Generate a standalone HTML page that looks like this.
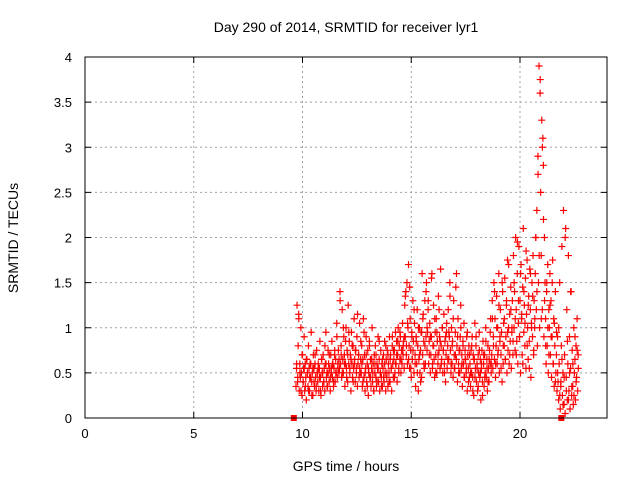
<!DOCTYPE html>
<html><head><meta charset="utf-8"><style>
body{margin:0;background:#fff}
svg{display:block;font-family:"Liberation Sans",sans-serif}
</style></head><body>
<svg id="chart" width="640" height="480">
<text x="346" y="32" text-anchor="middle" font-size="14">Day 290 of 2014, SRMTID for receiver lyr1</text>
<text x="0" y="0" transform="translate(18,238) rotate(-90)" text-anchor="middle" font-size="14">SRMTID / TECUs</text>
<text x="346" y="471" text-anchor="middle" font-size="14">GPS time / hours</text>
<g id="grid"></g><g id="marks"></g>
<rect x="85" y="57" width="522" height="361" fill="none" stroke="#000" stroke-width="1"/>
</svg>
<script>
const xTicks=[0,5,10,15,20];
const yTicks=[0,0.5,1,1.5,2,2.5,3,3.5,4];
const yTickLabels=["0","0.5","1","1.5","2","2.5","3","3.5","4"];
const tStart=9.7, tStep=0.025;
const values=[
0.35,0.55,1.25,0.4,0.8,1.15,0.3,0.6,0.45,1.0,0.5,0.25,0.7,0.4,0.55,0.9,0.3,0.6,0.45,0.2,0.65,0.5,0.35,0.8,0.55,0.3,0.6,0.45,0.95,0.4,0.5,0.25,0.7,0.55,0.35,0.6,0.45,0.3,0.75,0.5,
0.4,0.6,0.3,0.55,0.85,0.45,0.25,0.65,0.5,0.35,0.7,0.4,0.55,0.3,0.6,0.95,0.45,0.5,0.35,0.75,0.6,0.4,0.55,0.3,0.7,0.5,0.85,0.45,0.6,0.35,0.55,0.7,0.4,0.65,0.5,1.05,0.45,0.6,0.75,0.5,
0.55,1.4,0.6,0.8,0.45,1.2,0.65,0.5,0.9,0.7,0.35,0.6,1.0,0.55,0.75,0.4,1.25,0.6,0.85,0.5,0.7,0.3,0.95,0.6,0.45,0.8,0.55,1.1,0.65,0.4,0.75,0.55,0.9,0.35,0.6,0.7,0.45,1.05,0.5,0.65,
0.5,0.8,0.35,0.65,1.1,0.45,0.7,0.3,0.55,0.9,0.4,0.6,0.75,0.25,0.5,0.85,0.45,0.65,0.35,0.55,1.0,0.4,0.6,0.3,0.7,0.5,0.8,0.45,0.35,0.6,0.55,0.9,0.4,0.65,0.3,0.5,0.75,0.45,0.6,0.35,
0.55,0.7,0.4,0.85,0.5,0.3,0.65,0.45,0.75,0.35,0.6,0.5,0.9,0.4,0.7,0.55,0.3,0.8,0.6,0.45,0.65,0.75,0.5,0.95,0.6,0.85,0.4,0.7,1.0,0.55,0.8,0.65,0.9,0.5,0.75,0.6,1.05,0.7,0.85,0.55,
1.25,0.9,1.4,0.7,1.5,0.6,1.0,1.7,0.8,0.55,1.1,0.75,0.45,0.95,0.65,1.3,0.85,0.5,1.05,0.7,0.35,0.9,0.6,1.2,0.8,0.3,0.65,1.0,0.5,0.75,0.95,0.45,1.6,0.7,1.15,0.85,0.55,1.3,0.6,0.9,
1.5,0.75,0.95,1.2,0.6,0.85,1.05,0.5,0.7,0.9,1.6,0.55,0.8,1.25,0.65,0.45,0.95,0.7,1.1,0.5,0.85,0.6,1.35,0.75,0.9,0.55,1.65,0.8,0.65,1.0,0.5,0.75,1.15,0.6,0.85,0.4,0.7,0.95,0.55,0.8,
1.2,0.65,0.9,1.5,0.75,0.5,1.0,0.6,0.85,0.45,1.3,0.7,0.55,0.95,1.45,0.65,0.8,0.4,1.1,0.6,0.75,0.5,0.9,1.25,0.55,0.7,0.35,0.85,0.6,1.05,0.45,0.75,0.65,0.5,0.9,0.3,0.7,0.55,0.8,0.45,
0.6,0.35,0.75,0.5,0.9,0.45,0.7,0.25,0.65,1.05,0.55,0.8,0.4,0.6,0.3,0.7,0.5,0.95,0.45,0.65,0.2,0.55,0.75,0.4,0.85,0.6,0.35,0.7,0.5,1.0,0.45,0.65,0.3,0.8,0.55,0.4,0.75,0.6,1.1,0.5,
0.7,1.3,0.55,0.9,1.5,0.65,1.1,0.45,0.8,1.35,0.6,1.0,0.75,1.6,0.5,0.85,1.2,0.7,0.95,0.4,1.4,0.6,1.05,0.8,1.55,0.65,0.9,1.25,0.5,1.75,0.75,1.0,0.6,1.15,0.85,1.45,0.55,0.95,1.3,0.7,
1.8,1.0,1.4,0.75,2.0,1.2,0.85,1.6,0.6,1.05,1.9,0.9,1.3,0.5,1.7,1.1,0.7,1.45,2.1,0.95,1.25,0.8,1.55,0.55,1.15,1.75,1.0,0.65,1.35,0.85,1.65,1.2,0.45,1.05,1.5,0.9,1.8,0.7,1.3,1.0,
1.6,2.0,1.2,2.3,0.8,2.9,1.5,3.9,1.0,3.6,2.5,1.8,3.3,1.2,3.1,2.8,0.9,2.0,1.5,1.1,0.6,1.4,0.8,1.7,0.5,1.2,1.0,1.6,0.7,1.3,0.45,0.9,1.75,0.6,1.1,0.35,0.8,1.4,0.5,0.7,
0.3,0.9,0.4,0.2,0.6,1.5,0.1,0.35,0.8,1.9,0.25,0.5,2.3,0.15,0.7,0.05,2.1,0.45,1.2,0.2,0.6,1.8,0.3,0.9,0.1,0.55,1.4,0.25,0.75,0.35,0.15,1.0,0.5,0.65,0.2,0.8,0.45,1.1,0.3,0.7
];
const t2Start=9.73, t2Step=0.05;
const values2=[
0.6,0.45,1.1,0.5,0.3,0.7,0.4,0.55,0.35,0.65,0.5,0.3,0.45,0.6,0.25,0.55,0.4,0.7,0.35,0.5,
0.55,0.45,0.3,0.65,0.5,0.4,0.8,0.6,0.35,0.5,0.7,0.45,0.55,0.6,0.4,0.75,0.5,0.9,0.55,0.65,
1.3,0.7,0.5,1.0,0.6,0.85,0.45,0.7,0.95,0.55,0.65,0.8,0.4,0.6,0.75,0.5,1.15,0.7,0.55,0.85,
0.6,0.4,0.95,0.5,0.7,0.35,0.55,0.8,0.45,0.65,0.5,0.3,0.6,0.7,0.4,0.55,0.85,0.5,0.35,0.65,
0.45,0.6,0.8,0.5,0.7,0.4,0.65,0.55,0.9,0.75,0.45,0.6,0.7,0.85,0.5,0.95,0.65,0.75,0.8,0.9,
1.35,0.8,1.05,0.65,1.45,0.55,0.9,0.75,1.2,0.6,0.85,0.5,1.0,0.7,0.4,0.95,1.1,0.6,0.8,1.4,
1.0,1.3,0.7,0.9,1.55,0.6,0.8,1.1,0.5,0.95,0.7,1.2,0.85,0.6,1.0,0.75,0.5,0.9,1.05,0.65,
0.95,1.35,0.6,0.8,1.1,0.55,0.7,1.6,0.9,0.5,0.75,1.0,0.6,0.8,0.45,0.65,0.55,0.95,0.4,0.7,
0.5,0.8,0.3,0.65,0.45,0.9,0.55,0.35,0.75,0.5,0.6,0.25,0.7,0.45,0.85,0.55,0.4,0.65,0.95,0.6,
1.1,0.8,1.4,0.6,1.0,0.7,1.25,0.9,0.55,1.5,0.8,1.1,0.65,1.3,0.95,1.7,0.7,1.2,1.0,0.85,
1.5,1.1,0.7,1.95,1.3,0.9,1.6,1.15,0.6,1.4,1.05,1.85,0.8,1.25,0.55,1.6,1.0,1.35,0.75,1.1,
2.0,1.4,2.7,1.8,3.75,1.1,3.0,2.2,1.3,0.8,1.5,1.0,0.7,1.25,0.9,1.5,0.6,1.05,0.4,0.95,
0.5,1.0,0.25,0.4,0.65,0.15,0.45,2.0,0.3,0.85,0.2,0.5,1.4,0.35,0.6,0.25,0.9,0.4,0.75,0.55
];
const squareTimes=[9.6,21.9];
const squareValues=[0,0];
const X0=85,X1=607,Y0=418,Y1=57,XMAX=24,YMAX=4;
function xs(t){return X0+(X1-X0)*t/XMAX;}
function ys(v){return Y0-(Y0-Y1)*v/YMAX;}
const NS="http://www.w3.org/2000/svg";
const grid=document.getElementById('grid'),marks=document.getElementById('marks');
function mk(tag,attrs,parent){const e=document.createElementNS(NS,tag);for(const k in attrs)e.setAttribute(k,attrs[k]);parent.appendChild(e);return e;}
xTicks.forEach(t=>{const x=xs(t);
 if(t>0){const g=mk('line',{x1:x,x2:x,y1:Y0,y2:Y1,stroke:'#a0a0a0','stroke-dasharray':'2,3'},grid);
 
 }
 const tk=mk('path',{d:`M${x},${Y0}v-6M${x},${Y1}v6`,stroke:'#000'},grid);
 
 
 const l=mk('text',{x:x,y:Y0+20,'text-anchor':'middle','font-size':13},grid);l.textContent=t;
 
 
});
yTicks.forEach((v,i)=>{const y=ys(v);
 if(v>0&&v<4){const g=mk('line',{x1:X0,x2:X1,y1:y,y2:y,stroke:'#a0a0a0','stroke-dasharray':'2,3'},grid);
 
 }
 const tk=mk('path',{d:`M${X0},${y}h6M${X1},${y}h-6`,stroke:'#000'},grid);
 
 
 const l=mk('text',{x:72,y:y+5,'text-anchor':'end','font-size':13},grid);l.textContent=yTickLabels[i];
 
 
});
function cross(t,v){const x=xs(t),y=ys(v);
 const p=mk('path',{d:`M${x-3.5},${y}h7M${x},${y-3.5}v7`,stroke:'#f00','stroke-width':1.2},marks);
 
 
}
values.forEach((v,i)=>cross(tStart+i*tStep,v));
values2.forEach((v,i)=>cross(t2Start+i*t2Step,v));
squareTimes.forEach((t,i)=>{const x=xs(t),y=ys(squareValues[i]);
 const r=mk('rect',{x:x-3,y:y-3,width:6,height:6,fill:'#f00'},marks);
 
 
});
</script>
</body></html>
